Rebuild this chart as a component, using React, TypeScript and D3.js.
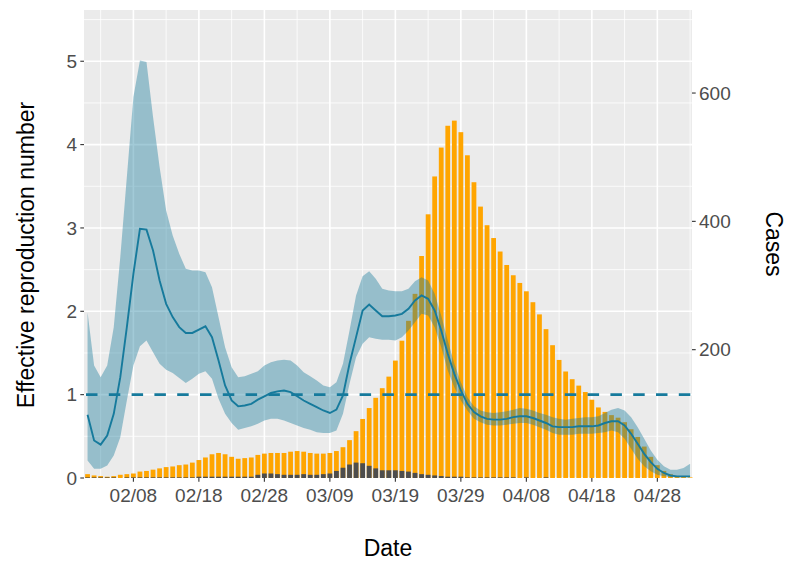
import React from 'react';
import * as d3 from 'd3';

// daily series starting 2020-02-01
const startDate = new Date(2020, 1, 1);

const cases = [
  6, 4, 3, 2, 3, 5, 6, 7, 10, 11,
  13, 15, 17, 18, 20, 21, 24, 28, 32, 37,
  39, 37, 33, 30, 31, 32, 36, 38, 39, 39,
  39, 41, 42, 41, 39, 38, 38, 39, 42, 48,
  59, 73, 92, 109, 125, 140, 158, 183, 214, 245,
  287, 346, 411, 470, 515, 549, 557, 539, 503, 461,
  423, 394, 374, 353, 332, 316, 304, 291, 274, 255,
  232, 207, 184, 166, 154, 144, 134, 122, 110, 103,
  98, 94, 87, 76, 64, 49, 33, 20, 11, 6,
  3, 2, 1,
];

const imported = [
  1, 1, 1, 1, 1, 0, 1, 1, 1, 1,
  1, 1, 1, 1, 1, 1, 1, 2, 2, 2,
  2, 2, 2, 2, 2, 2, 5, 7, 7, 6,
  5, 5, 5, 6, 5, 5, 6, 7, 11, 16,
  21, 24, 23, 19, 15, 12, 12, 12, 11, 10,
  8, 6, 5, 4, 3, 2, 2, 2, 1, 1,
  1, 1, 1, 1, 1, 1, 0, 1, 0, 0,
  1, 0, 0, 0, 0, 0, 0, 0, 0, 0,
  0, 0, 0, 0, 0, 0, 0, 0, 0, 0,
  0, 0, 0,
];

const rMean = [
  0.76, 0.45, 0.40, 0.51, 0.77, 1.21, 1.81, 2.45, 2.99, 2.98,
  2.73, 2.37, 2.09, 1.93, 1.81, 1.74, 1.74, 1.78, 1.82, 1.69,
  1.41, 1.11, 0.93, 0.86, 0.87, 0.89, 0.94, 0.98, 1.02, 1.04,
  1.05, 1.03, 0.98, 0.93, 0.89, 0.85, 0.81, 0.78, 0.82, 0.99,
  1.37, 1.69, 2.01, 2.08, 2.01, 1.94, 1.94, 1.95, 1.97, 2.03,
  2.13, 2.19, 2.15, 2.01, 1.77, 1.49, 1.25, 1.05, 0.89, 0.79,
  0.74, 0.71, 0.70, 0.70, 0.71, 0.73, 0.74, 0.74, 0.72, 0.69,
  0.66, 0.62, 0.61, 0.61, 0.61, 0.62, 0.62, 0.62, 0.63, 0.66,
  0.68, 0.68, 0.63, 0.53, 0.41, 0.29, 0.19, 0.11, 0.06, 0.03,
  0.02, 0.02, 0.02,
];

const rUpper = [
  1.99, 1.35, 1.21, 1.35, 1.81, 2.65, 3.61, 4.57, 5.01, 4.99,
  4.33, 3.73, 3.21, 2.91, 2.69, 2.51, 2.49, 2.49, 2.47, 2.29,
  1.93, 1.57, 1.33, 1.21, 1.22, 1.25, 1.28, 1.35, 1.39, 1.41,
  1.42, 1.41, 1.35, 1.27, 1.22, 1.17, 1.11, 1.09, 1.15, 1.37,
  1.77, 2.19, 2.42, 2.48, 2.39, 2.27, 2.25, 2.24, 2.24, 2.27,
  2.36, 2.41, 2.37, 2.21, 1.95, 1.65, 1.37, 1.15, 0.97, 0.86,
  0.81, 0.79, 0.78, 0.79, 0.80, 0.82, 0.84, 0.83, 0.81, 0.78,
  0.76, 0.73, 0.71, 0.70, 0.71, 0.72, 0.73, 0.73, 0.74, 0.78,
  0.82, 0.84, 0.81, 0.73, 0.61, 0.47, 0.33, 0.22, 0.14, 0.10,
  0.10, 0.12, 0.17,
];

const rLower = [
  0.21, 0.11, 0.11, 0.15, 0.27, 0.49, 0.93, 1.35, 1.58, 1.65,
  1.51, 1.37, 1.30, 1.26, 1.20, 1.14, 1.19, 1.25, 1.28, 1.19,
  0.95, 0.77, 0.66, 0.58, 0.60, 0.62, 0.65, 0.69, 0.71, 0.71,
  0.69, 0.66, 0.63, 0.60, 0.58, 0.55, 0.54, 0.54, 0.57, 0.77,
  1.13, 1.45, 1.61, 1.69, 1.67, 1.66, 1.66, 1.65, 1.69, 1.77,
  1.87, 1.97, 1.95, 1.81, 1.57, 1.29, 1.09, 0.93, 0.81, 0.71,
  0.67, 0.64, 0.63, 0.63, 0.64, 0.65, 0.66, 0.66, 0.64, 0.61,
  0.58, 0.54, 0.52, 0.52, 0.52, 0.53, 0.53, 0.53, 0.54, 0.55,
  0.57, 0.55, 0.47, 0.35, 0.23, 0.14, 0.08, 0.04, 0.02, 0.01,
  0.01, 0.01, 0.01,
];

const dateTicks = ['2020-02-08', '2020-02-18', '2020-02-28', '2020-03-09', '2020-03-19',
  '2020-03-29', '2020-04-08', '2020-04-18', '2020-04-28'];
const rTicks = [0, 1, 2, 3, 4, 5];
const caseTicks = [200, 400, 600];

const W = 800, H = 571;
const P = { left: 84, right: 692, top: 10, bottom: 478 };
const teal = '#167a9c';
const font = '"Liberation Sans", Arial, sans-serif';

export default function App() {
  const days = cases.map((_, i) => d3.timeDay.offset(startDate, i));
  const x = d3.scaleTime()
    .domain([d3.timeHour.offset(startDate, -13), d3.timeHour.offset(days[days.length - 1], 7)])
    .range([P.left, P.right]);
  const yR = d3.scaleLinear().domain([0, (P.bottom - P.top) / 83.35]).range([P.bottom, P.top]);
  const yC = d3.scaleLinear().domain([0, (P.bottom - P.top) / 0.6416]).range([P.bottom, P.top]);

  const parse = d3.timeParse('%Y-%m-%d');
  const ticks = dateTicks.map(s => parse(s) as Date);
  const fmt = d3.timeFormat('%m/%d');
  const minorX = ticks.map(t => d3.timeDay.offset(t, -5)).concat([d3.timeDay.offset(ticks[ticks.length - 1], 5)]);
  const minorY = rTicks.map(v => v + 0.5);

  const dayW = x(days[1]) - x(days[0]);
  const barW = dayW * 0.73;

  const area = d3.area<number>()
    .x(i => x(days[i]))
    .y0(i => yR(rLower[i]))
    .y1(i => yR(rUpper[i]));
  const line = d3.line<number>()
    .x(i => x(days[i]))
    .y(i => yR(rMean[i]));
  const idx = d3.range(days.length);

  return (
    <svg width={W} height={H} style={{ position: 'absolute', left: 0, top: 0, background: '#fff' }} fontFamily={font}>
      <rect x={P.left} y={P.top} width={P.right - P.left} height={P.bottom - P.top} fill="#ebebeb" />
      {minorY.map(v => (
        <line key={'my' + v} x1={P.left} x2={P.right} y1={yR(v)} y2={yR(v)} stroke="#fff" strokeWidth={0.8} />
      ))}
      {minorX.map((d, i) => (
        <line key={'mx' + i} x1={x(d)} x2={x(d)} y1={P.top} y2={P.bottom} stroke="#fff" strokeWidth={0.8} />
      ))}
      {rTicks.map(v => (
        <line key={'gy' + v} x1={P.left} x2={P.right} y1={yR(v)} y2={yR(v)} stroke="#fff" strokeWidth={1.6} />
      ))}
      {ticks.map((d, i) => (
        <line key={'gx' + i} x1={x(d)} x2={x(d)} y1={P.top} y2={P.bottom} stroke="#fff" strokeWidth={1.6} />
      ))}

      {idx.map(i => (
        <rect key={'c' + i} x={x(days[i]) - barW / 2} width={barW}
          y={yC(cases[i])} height={yC(0) - yC(cases[i])} fill="#ffa500" />
      ))}
      {idx.map(i => imported[i] > 0 ? (
        <rect key={'m' + i} x={x(days[i]) - barW / 2} width={barW}
          y={yC(imported[i])} height={yC(0) - yC(imported[i])} fill="#4d4d4d" />
      ) : null)}

      <path d={area(idx) || ''} fill={teal} fillOpacity={0.4} />
      <path d={line(idx) || ''} fill="none" stroke={teal} strokeWidth={1.9} />
      <line x1={P.left + 2} x2={P.right} y1={yR(1)} y2={yR(1)} stroke={teal}
        strokeWidth={2.8} strokeDasharray="11.5 11.3" />

      {/* left axis */}
      {rTicks.map(v => (
        <g key={'ly' + v}>
          <line x1={P.left - 3.7} x2={P.left} y1={yR(v)} y2={yR(v)} stroke="#333" strokeWidth={1.1} />
          <text x={P.left - 7} y={yR(v)} dy="0.35em" textAnchor="end" fontSize={19} fill="#4d4d4d">{v}</text>
        </g>
      ))}
      {/* right axis */}
      {caseTicks.map(v => (
        <g key={'ry' + v}>
          <line x1={P.right} x2={P.right + 3.7} y1={yC(v)} y2={yC(v)} stroke="#333" strokeWidth={1.1} />
          <text x={P.right + 7} y={yC(v)} dy="0.35em" textAnchor="start" fontSize={19} fill="#4d4d4d">{v}</text>
        </g>
      ))}
      {/* bottom axis */}
      {ticks.map((d, i) => (
        <g key={'bx' + i}>
          <line x1={x(d)} x2={x(d)} y1={P.bottom} y2={P.bottom + 3.7} stroke="#333" strokeWidth={1.1} />
          <text x={x(d)} y={P.bottom + 24} textAnchor="middle" fontSize={19} fill="#4d4d4d">{fmt(d)}</text>
        </g>
      ))}

      <text x={(P.left + P.right) / 2} y={556} textAnchor="middle" fontSize={23} fill="#000">Date</text>
      <text transform={`translate(26,255) rotate(-90)`} textAnchor="middle"
        dy="0.35em" fontSize={23} fill="#000">Effective reproduction number</text>
      <text transform={`translate(774,${(P.top + P.bottom) / 2}) rotate(90)`} textAnchor="middle"
        dy="0.35em" fontSize={23} fill="#000">Cases</text>
    </svg>
  );
}
